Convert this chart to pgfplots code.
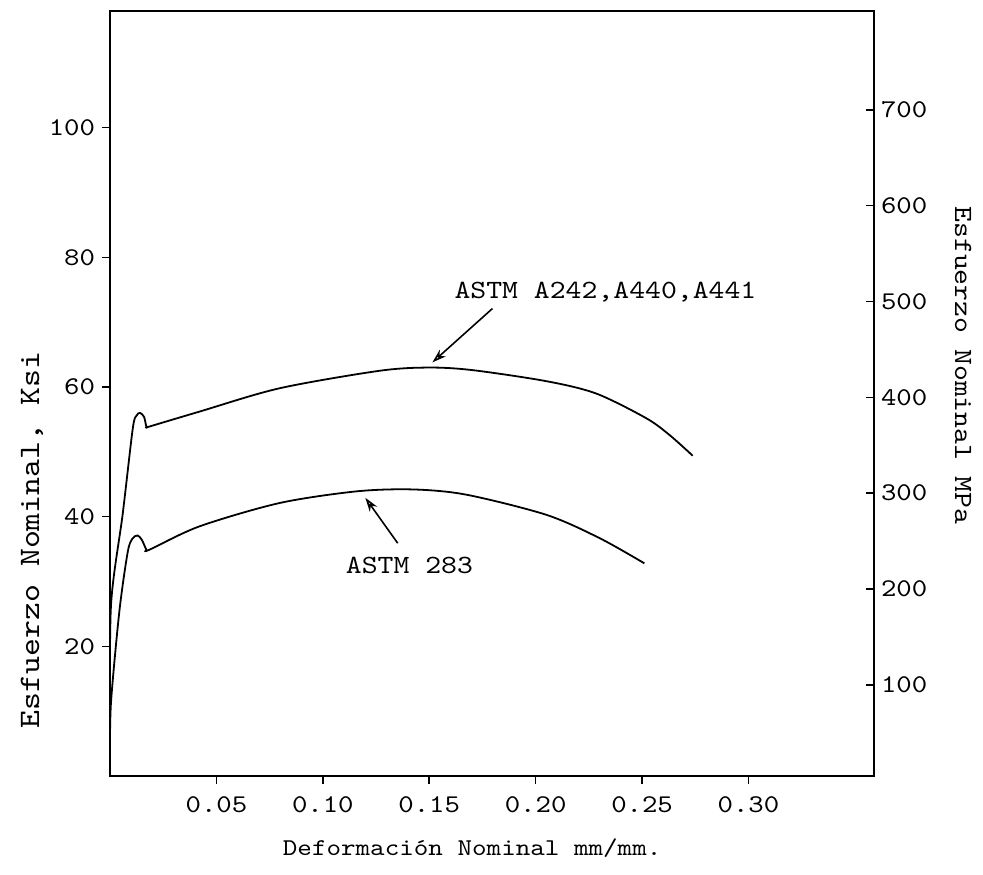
\documentclass[border=0pt]{standalone}
\usepackage{fontspec}
\newfontfamily\tw[Extension=.otf, FakeStretch=1.15]{lmmono10-regular}
\usepackage{pgfplots}
\pgfplotsset{compat=1.18}
\usetikzlibrary{arrows.meta}

\pgfplotsset{
  sheet/.style={
    at={(0,0)}, anchor=south west,
    width=382bp, height=382.5bp, scale only axis,
    xmin=0, xmax=0.359,
    axis line style={line width=1.2pt},
    major tick length=4bp,
    every tick/.style={line width=0.8pt, black},
  }
}

\begin{document}
\begin{tikzpicture}[x=1bp, y=1bp]
\useasboundingbox (-55,-49.5) rectangle (436.5,388);
\begin{axis}[
  sheet,
  ymin=0, ymax=118,
  xtick pos=bottom, ytick pos=left, tick align=outside,
  xtick={0.05,0.10,0.15,0.20,0.25,0.30},
  xticklabels={0.05,0.10,0.15,0.20,0.25,0.30},
  ytick={20,40,60,80,100},
  yticklabels={20,40,60,80,100},
  tick label style={font=\tw\fontsize{12.8}{14}\selectfont},
  xticklabel style={yshift=-3bp},
  xlabel={Deformación Nominal mm/mm.},
  xlabel style={font=\tw\fontsize{12.1}{14}\selectfont, at={(axis description cs:0.474,-0.094)}, anchor=center},
  ylabel={Esfuerzo Nominal, Ksi},
  ylabel style={font=\tw\fontsize{14.9}{16}\selectfont, at={(axis description cs:-0.102,0.3085)}, anchor=center},
]
% ASTM A242, A440, A441
\addplot[black, line width=0.9pt, smooth, tension=0.5] coordinates {
  (0.0000,8) (0.0005,26.5) (0.0060,40.5)
  (0.0107,53.6) (0.0125,55.6) (0.0141,56.0) (0.0160,55.4) (0.0172,53.8)
  (0.0185,53.9) (0.042,56.2) (0.0796,59.8) (0.1266,62.5) (0.150,63.0)
  (0.1704,62.6) (0.205,60.9) (0.2284,59.0) (0.2519,55.2)
  (0.2629,52.6) (0.2738,49.4)
};
% ASTM 283
\addplot[black, line width=0.9pt, smooth, tension=0.5] coordinates {
  (0.0000,4) (0.0005,11.5) (0.0044,25.4) (0.0083,34.5) (0.0105,36.6)
  (0.0130,37.1) (0.0150,36.4) (0.0170,35.0) (0.0185,34.9)
  (0.042,38.5) (0.0796,42.1) (0.1157,43.9) (0.1422,44.2)
  (0.1673,43.4) (0.2049,40.3) (0.2300,36.7) (0.2511,32.8)
};
\draw[line width=0.8pt, -{Stealth[length=7bp, width=4.5bp, open]}]
  (axis cs:0.1797,72.1) -- (axis cs:0.1515,63.8);
\node[font=\tw\fontsize{13.2}{14}\selectfont] at (axis cs:0.2328,74.7) {ASTM A242,A440,A441};
\draw[line width=0.8pt, -{Stealth[length=7bp, width=4.5bp, open]}]
  (axis cs:0.1352,35.9) -- (axis cs:0.1200,42.9);
\node[font=\tw\fontsize{13.2}{14}\selectfont] at (axis cs:0.1407,32.5) {ASTM 283};
\end{axis}
\begin{axis}[
  sheet,
  ymin=5, ymax=803,
  axis x line=none, axis y line*=right, tick align=inside,
  ytick={100,200,300,400,500,600,700},
  yticklabels={100,200,300,400,500,600,700},
  yticklabel style={font=\tw\fontsize{12.8}{14}\selectfont},
  ylabel={Esfuerzo Nominal MPa},
  ylabel style={font=\tw\fontsize{13.2}{16}\selectfont, at={(axis description cs:1.1165,0.537)}, anchor=center, rotate=180},
]
\end{axis}
\end{tikzpicture}
\end{document}
